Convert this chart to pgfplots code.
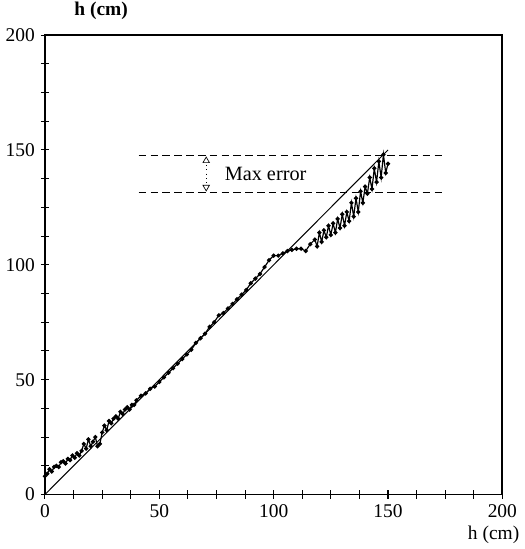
\documentclass[border=0pt]{standalone}
\usepackage{fontspec}
\setmainfont{Liberation Serif}
\usepackage{pgfplots}
\pgfplotsset{compat=1.18}

\pgfplotstableread{
x y
0 8
1 9
2 11
3 10
4 12
5 12.5
6 12
7 14
8 14.5
9 13.5
10 15.5
11 15
12 17
13 16
14 18
15 17
16 19
17 22
18 20
19 24
20 21
21 23
22 25
23 21
24 22
25 27
26 30
27 28
28 32
29 31
30 33
31 34
32 33
33 36
34 35
35 37
36 38
37 37
38 39
39 39
40 41
42 43
44 44
46 46
48 47
50 49
52 51
54 53
56 55
58 57
60 59
62 61
64 63
66 66
68 68
70 70
72 73
74 75
76 78
78 79
80 81
82 83
84 85
86 87
88 89
90 92
92 94
94 96
96 99
98 102
100 104
102 104
104 105
106 106
108 106.5
110 107
112 107
114 106
116 109
118 111
119 108
120 114
121 110
122 115
123 112
124 117
125 113
126 118
127 114
128 120
129 116
130 122
131 117
132 123
133 119
134 127
135 121
136 129
137 123
138 132
139 127
140 134
141 131
142 138
143 133
144 142
145 136
146 145
147 138
148 148
149 140
150 144
}\measured

\begin{document}
\begin{tikzpicture}
\begin{axis}[
    scale only axis,
    width=270.6pt, height=271.8pt,
    xmin=0, xmax=200, ymin=0, ymax=200,
    xtick={0,12.5,...,200}, ytick={0,12.5,...,200},
    xticklabels={0,,,,50,,,,100,,,,150,,,,200},
    yticklabels={0,,,,50,,,,100,,,,150,,,,200},
    xtick pos=bottom, ytick pos=left,
    tick align=center,
    major tick length=5pt,
    axis line style={line width=1pt},
    every tick/.style={black, line width=0.6pt},
    tick label style={font=\fontsize{11.5}{13}\selectfont},
    /pgf/number format/assume math mode=true,
    clip=false,
]
% ideal line
\addplot[black, line width=0.6pt] coordinates {(0,0)(150,150)};
% measured
\addplot[black, line width=0.7pt, mark=*, mark size=0.9pt] table[x=x, y=y] {\measured};
% max error band
\addplot[black, line width=0.8pt, dash pattern=on 4.5pt off 2.5pt] coordinates {(41,147.5)(174,147.5)};
\addplot[black, line width=0.8pt, dash pattern=on 4.5pt off 2.5pt] coordinates {(41,131.6)(174,131.6)};
\addplot[black, dotted, line width=0.6pt] coordinates {(70.5,143.5)(70.5,135.5)};
\addplot[only marks, mark=triangle, mark size=2.2pt, black] coordinates {(70.5,145.3)};
\addplot[only marks, mark=triangle, mark options={rotate=180}, mark size=2.2pt, black] coordinates {(70.5,133.8)};
\node[anchor=west, font=\fontsize{12}{14}\selectfont] at (axis cs:76,139.6) {Max error};
% axis labels
\node[anchor=south west, inner sep=1pt, font=\bfseries\fontsize{11.5}{13}\selectfont] at (axis cs:12,206) {h (cm)};
\node[anchor=north east, font=\fontsize{11.5}{13}\selectfont] at (axis cs:210,-11) {h (cm)};
\end{axis}
\end{tikzpicture}
\end{document}
